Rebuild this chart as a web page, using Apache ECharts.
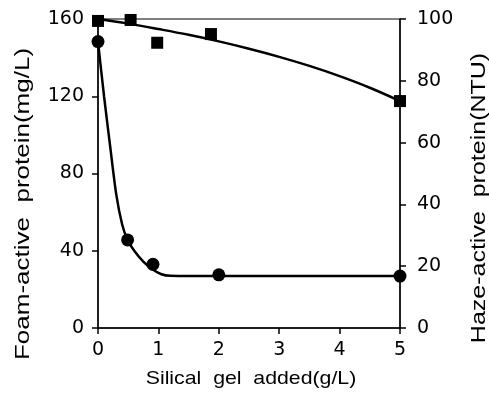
<!DOCTYPE html>
<html>
<head>
<meta charset="utf-8">
<script src="https://cdn.jsdelivr.net/npm/echarts@6/dist/echarts.min.js"></script>
<style>html,body{margin:0;padding:0;background:#fff;}#c{width:489px;height:395px;}</style>
</head>
<body>
<div id="c"></div>
<script>
// Foam-active protein (left axis, mg/L) — squares
var foamX = [0, 0.54, 0.98, 1.87, 5];
var foamY = [159, 159.5, 147.7, 152.2, 117.5];
// Haze-active protein (right axis, NTU) — circles
var hazeX = [0, 0.49, 0.91, 2.0, 5];
var hazeY = [92.7, 28.5, 20.6, 17.2, 16.8];
// fitted curves
var foamCurveX = [0, 0.5, 1, 1.5, 2, 2.5, 3, 3.5, 4, 4.5, 5];
var foamCurveY = [160, 157.6, 154.8, 151.8, 148.4, 144.6, 140.4, 135.7, 130.4, 124.4, 117.5];
var hazeCurveX = [0, 0.1, 0.2, 0.3, 0.4, 0.49, 0.6, 0.75, 0.9, 1.05, 1.2, 2, 5];
var hazeCurveY = [92.7, 75, 59, 43.5, 33.5, 28.5, 25, 21.5, 19, 17.4, 16.9, 16.8, 16.8];
// axis ranges / titles
var xTicks = [0, 1, 2, 3, 4, 5];
var leftTicks = [0, 40, 80, 120, 160];
var rightTicks = [0, 20, 40, 60, 80, 100];
var xTitle = 'Silical  gel  added(g/L)';
var leftTitle = 'Foam-active  protein(mg/L)';
var rightTitle = 'Haze-active  protein(NTU)';

function pairs(xs, ys){ return xs.map(function(x,i){ return [x, ys[i]]; }); }

var chart = echarts.init(document.getElementById('c'), null, {renderer:'canvas'});
var lbl = {color:'#000', fontFamily:'DejaVu Sans', fontSize:19};
var axLine = {show:true, lineStyle:{color:'#000', width:1.5}};
var axTick = {show:true, length:6, lineStyle:{color:'#000', width:1.5}};
chart.setOption({
  animation:false,
  backgroundColor:'#fff',
  grid:{left:98, right:89, top:19, bottom:67, show:true, borderColor:'#000', borderWidth:1, backgroundColor:'transparent'},
  xAxis:{type:'value', min:xTicks[0], max:xTicks[xTicks.length-1], interval:1,
    axisLine:axLine, axisTick:axTick, splitLine:{show:false},
    axisLabel:Object.assign({margin:13}, lbl)},
  yAxis:[
    {type:'value', position:'left', min:leftTicks[0], max:leftTicks[leftTicks.length-1], interval:40,
      axisLine:axLine, axisTick:axTick, splitLine:{show:false},
      axisLabel:Object.assign({margin:14}, lbl)},
    {type:'value', position:'right', min:rightTicks[0], max:rightTicks[rightTicks.length-1], interval:20,
      axisLine:axLine, axisTick:axTick, splitLine:{show:false},
      axisLabel:Object.assign({margin:17}, lbl)}
  ],
  series:[
    {type:'line', yAxisIndex:0, data:pairs(foamCurveX, foamCurveY), smooth:0.4, showSymbol:false, symbol:'none',
      lineStyle:{color:'#000', width:2.5}, z:2},
    {type:'line', yAxisIndex:1, data:pairs(hazeCurveX, hazeCurveY), smooth:0.25, showSymbol:false, symbol:'none',
      lineStyle:{color:'#000', width:2.5}, z:2},
    {type:'scatter', yAxisIndex:0, data:pairs(foamX, foamY), symbol:'rect', symbolSize:12,
      itemStyle:{color:'#000', opacity:1}, z:3},
    {type:'scatter', yAxisIndex:1, data:pairs(hazeX, hazeY), symbol:'circle', symbolSize:13,
      itemStyle:{color:'#000', opacity:1}, z:3}
  ],
  graphic:[
    {type:'text', x:251, y:379, scaleX:1.12, style:{text:xTitle, fontFamily:'Liberation Sans', fontSize:19, fill:'#000', align:'center', verticalAlign:'middle'}},
    {type:'text', x:23, y:204, rotation:Math.PI/2, scaleX:1.3, style:{text:leftTitle, fontFamily:'Liberation Sans', fontSize:20, fill:'#000', align:'center', verticalAlign:'middle'}},
    {type:'text', x:479, y:198, rotation:Math.PI/2, scaleX:1.25, style:{text:rightTitle, fontFamily:'Liberation Sans', fontSize:20, fill:'#000', align:'center', verticalAlign:'middle'}}
  ]
});
</script>
</body>
</html>
